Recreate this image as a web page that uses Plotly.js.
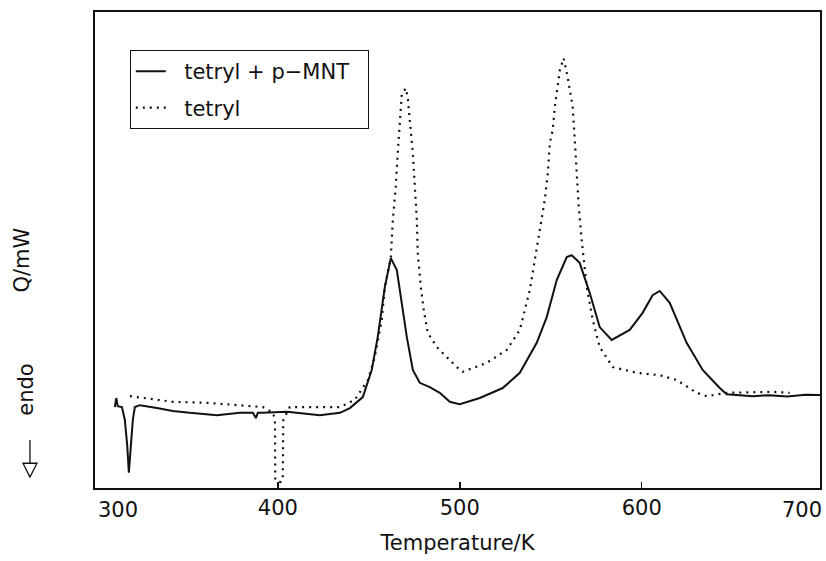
<!DOCTYPE html>
<html>
<head>
<meta charset="utf-8">
<script src="https://cdn.plot.ly/plotly-3.0.1.min.js"></script>
<style>html,body{margin:0;padding:0;background:#fff;}#chart{width:826px;height:561px;}</style>
</head>
<body>
<div id="chart"></div>
<script>
// Temperature / K and heat flow Q (arbitrary mW units)
const seriesNames = ["tetryl + p\u2212MNT", "tetryl"];
const tempMix = [310.4, 311.2, 312.0, 314.3, 315.9, 317.2, 318.1, 319.2, 320.3, 321.4, 324.2, 333.5, 342.3, 351.6, 366.5, 379.1, 386.3, 387.9, 389.0, 391.8, 405.0, 423.1, 434.1, 439.6, 446.7, 451.6, 454.9, 458.8, 462.1, 465.4, 468.1, 470.9, 474.2, 478.0, 483.5, 489.0, 494.5, 500.0, 511.0, 523.6, 533.0, 542.3, 547.8, 553.3, 558.8, 561.5, 565.9, 571.4, 576.9, 583.5, 593.4, 600.5, 606.0, 609.9, 615.4, 624.7, 633.5, 642.9, 646.7, 661.0, 670, 680, 690, 699.5];
const qMix = [1.70, 1.89, 1.72, 1.70, 1.43, 0.90, 0.32, 0.90, 1.43, 1.70, 1.74, 1.68, 1.62, 1.58, 1.53, 1.58, 1.58, 1.47, 1.58, 1.58, 1.60, 1.53, 1.58, 1.68, 1.91, 2.48, 3.17, 4.22, 4.83, 4.58, 3.89, 3.17, 2.48, 2.21, 2.12, 2.00, 1.81, 1.76, 1.89, 2.10, 2.42, 3.05, 3.59, 4.37, 4.85, 4.89, 4.73, 4.10, 3.38, 3.11, 3.32, 3.68, 4.05, 4.14, 3.89, 3.05, 2.48, 2.10, 1.97, 1.93, 1.95, 1.92, 1.96, 1.95];
const tempTetryl = [318.7, 322.5, 342.3, 361.0, 379.1, 391.8, 397.3, 398.4, 398.6, 400.0, 401.6, 402.7, 403.0, 406.6, 424.7, 434.1, 442.3, 449.5, 453.3, 457.1, 458.8, 462.1, 463.2, 464.8, 465.9, 467.0, 468.1, 470.3, 471.4, 472.5, 474.2, 475.3, 476.4, 476.9, 478.6, 480.2, 482.4, 487.4, 492.9, 498.4, 501.6, 514.8, 525.8, 533.0, 538.5, 542.3, 544.0, 545.1, 546.7, 548.4, 549.5, 551.1, 552.2, 555.0, 557.1, 559.3, 562.1, 563.2, 564.3, 565.4, 567.0, 569.8, 573.1, 576.9, 584.1, 597.3, 609.9, 619.2, 630.2, 635.7, 646.7, 672.0, 681.3];
const qTetryl = [1.93, 1.91, 1.81, 1.79, 1.74, 1.70, 1.58, 1.43, 0.17, 0.13, 0.13, 0.17, 1.43, 1.70, 1.70, 1.70, 1.85, 2.27, 2.75, 3.53, 4.22, 4.85, 5.63, 6.32, 7.04, 7.73, 8.26, 8.40, 8.21, 7.73, 7.04, 6.32, 5.63, 4.94, 4.22, 3.74, 3.26, 2.96, 2.75, 2.54, 2.44, 2.63, 2.90, 3.32, 4.16, 5.00, 5.42, 5.63, 6.05, 6.62, 7.25, 7.52, 8.00, 8.78, 9.03, 8.63, 8.00, 7.31, 6.62, 5.90, 5.21, 4.22, 3.53, 2.96, 2.54, 2.42, 2.37, 2.27, 2.00, 1.93, 2.00, 2.02, 2.00];
const tickVals = [300, 400, 500, 600, 700];
const tickLabels = ["300", "400", "500", "600", "700"];
const xTitle = "Temperature/K";
const yTitle = "Q/mW";
const endoLabel = "endo";

const FONT = "DejaVu Sans, sans-serif";
const INK = "#111";
const NB = "\u00a0";

const traces = [
  {x: tempMix, y: qMix, name: NB + NB + seriesNames[0] + NB + NB, type: "scatter", mode: "lines",
   line: {color: INK, width: 2}, legendgroup: "a"},
  {x: tempTetryl, y: qTetryl, name: NB + NB + seriesNames[1], type: "scatter", mode: "lines",
   line: {color: INK, width: 2.2, dash: "2px,5px"}, legendgroup: "b"}
];

// end tick labels are drawn shifted inward, as in the reference
const edgeShift = {300: 12, 700: -12};
const tickText = tickVals.map((v, i) => (v in edgeShift) ? "" : tickLabels[i]);
const annotations = tickVals.filter(v => v in edgeShift).map(v => ({
  x: v + edgeShift[v], xref: "x", xanchor: "center", y: 0, yref: "paper", yanchor: "top",
  yshift: -8, text: tickLabels[tickVals.indexOf(v)], showarrow: false,
  font: {family: FONT, size: 21, color: INK}
}));
annotations.push(
  {x: -0.1007, xref: "paper", xanchor: "center", y: 0.48, yref: "paper", yanchor: "middle",
   text: yTitle, textangle: -90, showarrow: false, font: {family: FONT, size: 21, color: INK}},
  {x: -0.0955, xref: "paper", xanchor: "center", y: 0.206, yref: "paper", yanchor: "middle",
   text: endoLabel, textangle: -90, showarrow: false, font: {family: FONT, size: 21, color: INK}}
);

const shapes = [
  {type: "line", xref: "paper", yref: "paper", x0: -0.0897, x1: -0.0897, y0: 0.101, y1: 0.052,
   line: {color: INK, width: 1.3}},
  {type: "path", xref: "paper", yref: "paper",
   path: "M -0.0993 0.052 L -0.0800 0.052 L -0.0897 0.023 Z",
   line: {color: INK, width: 1.3}, fillcolor: "rgba(0,0,0,0)"}
];

const layout = {
  width: 826, height: 561,
  margin: {l: 95, r: 6, t: 12, b: 73},
  paper_bgcolor: "#fff", plot_bgcolor: "#fff",
  font: {family: FONT, color: INK},
  showlegend: true,
  legend: {x: 0.048, y: 0.92, xanchor: "left", yanchor: "top",
    bordercolor: INK, borderwidth: 1, bgcolor: "#fff",
    font: {family: FONT, size: 21, color: INK},
    tracegroupgap: 6, traceorder: "grouped"},
  xaxis: {range: [299.5, 698], tickvals: tickVals, ticktext: tickText,
    ticks: "inside", ticklen: 6, tickwidth: 1.5, tickcolor: INK,
    showgrid: false, zeroline: false, showline: true, linecolor: INK, linewidth: 2, mirror: true,
    tickfont: {family: FONT, size: 21, color: INK},
    title: {text: xTitle, font: {family: FONT, size: 21, color: INK}, standoff: 16}},
  yaxis: {range: [0, 10], showticklabels: false, ticks: "", showgrid: false, zeroline: false,
    showline: true, linecolor: INK, linewidth: 2, mirror: true},
  annotations: annotations,
  shapes: shapes
};

Plotly.newPlot("chart", traces, layout, {staticPlot: true, displayModeBar: false});
</script>
</body>
</html>
